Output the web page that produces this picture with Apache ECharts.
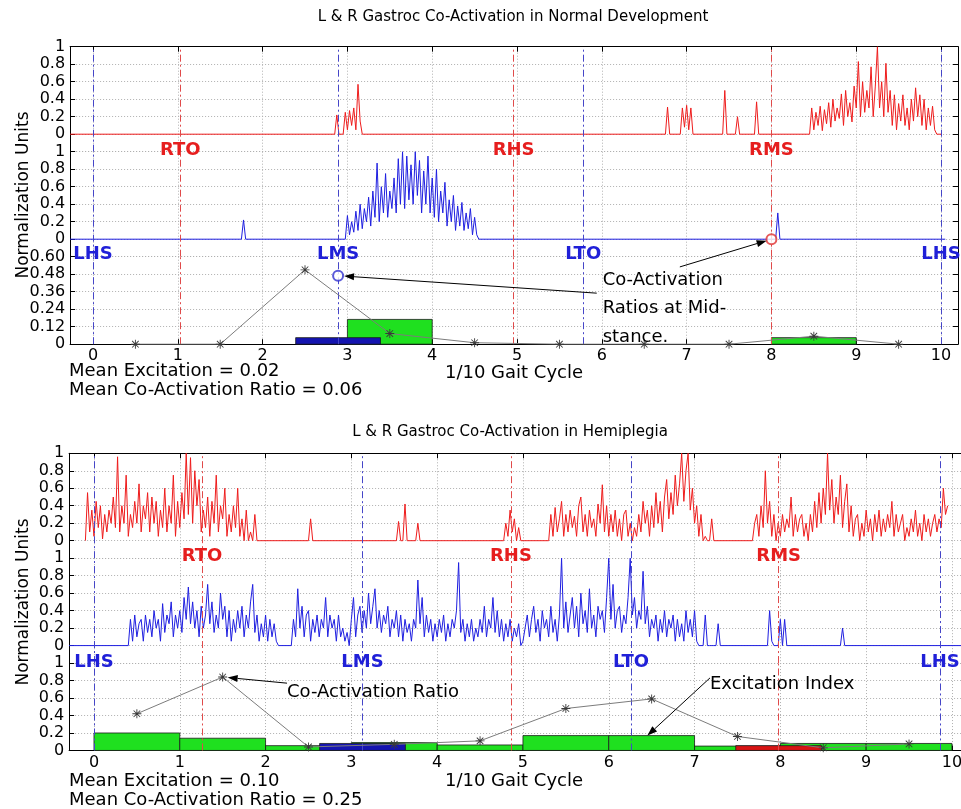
<!DOCTYPE html>
<html><head><meta charset="utf-8">
<script src="https://cdn.jsdelivr.net/npm/echarts@6/dist/echarts.min.js"></script>
<style>html,body{margin:0;padding:0;background:#fff}#c{width:961px;height:809px}</style>
</head><body><div id="c"></div><script>
// ---------------- DATA ----------------
const STEP = 0.025;                       // sample spacing (1/10 gait cycle)
const X_TICKS = [0,1,2,3,4,5,6,7,8,9,10];

// Normal development: right gastroc (red) EMG segments [startX, samples]
const ndRightEmg = [
  [-0.27,[0]],
  [2.85,[0,0.22,0]],
  [2.95,[0,0.25,0.05,0.27,0.1,0.3,0.05,0.57,0.15,0]],
  [6.75,[0,0.31,0]],
  [6.925,[0,0.3,0.08,0.33,0.05,0.3,0]],
  [7.425,[0,0.5,0]],
  [7.575,[0,0.2,0]],
  [7.8,[0,0.37,0]],
  [8.45,[0,.30,.05,.25,.10,.32,.04,.28, .12,.36,.08,.40,.15,.30,.18,.46,
         .10,.50,.20,.36,.14,.55,.30,.83, .20,.60,.25,.50,.30,.77,.20,.55,
         1.0,.30,.60,.20,.81,.25,.50,.10, .45,.05,.35,.15,.45,.10,.30,.05,
         .40,.15,.53,.20,.45,.10,.40,.05, .30,.10,.32,.05,0]],
  [10.0,[0]]
];
// Normal development: left gastroc (blue) EMG
const ndLeftEmg = [
  [-0.27,[0]],
  [1.75,[0,0.22,0]],
  [2.975,[0,.27,.05,.20,.08,.32,.10,.40, .12,.35,.20,.48,.15,.55,.25,.87,
          .20,.60,.30,.75,.25,.55,.35,.70, .30,.92,.40,1.0,.35,.95,.45,.85,
          .40,1.0,.50,.90,.30,.78,.40,.95, .30,.70,.25,.80,.20,.55,.30,.65,
          .15,.45,.20,.50,.10,.38,.15,.42, .10,.30,.12,.35,.05,.25,.05,0]],
  [8.05,[0,0.3,0]],
  [10.05,[0]]
];
const ndRightEvents = [['RTO',1.03],['RHS',4.96],['RMS',8.0]];
const ndLeftEvents  = [['LHS',0],['LMS',2.89],['LTO',5.78],['LHS',10.0]];
const ndExcitation  = [0,0,0,0.17,0,0,0,0,0.045,0];       // per 1/10 gait cycle
const ndMidstanceExcitation = {L:0.045, R:0};
const ndCoActivation = [0,0,0.51,0.073,0.01,0,0,0,0.055,0];
const ndLmsRatio = 0.47;
const ndRmsMarker = 0;

// Hemiplegia
const hmRightEmg = [
  [-0.1,[0,.55,.10,.35,.05,.45,.15,.40, .02,.30,.10,.35,.20,.50,.15,.96,
         .10,.40,.20,.75,.05,.30,.15,.45, .20,.65,.10,.40,.25,.55,.10,.50,
         .20,.45,.05,.35,.15,.60,.10,.40, .20,.75,.05,.45,.15,.55,.25,1.0,
         .30,.95,.20,.80,.40,.70,.10,.35, .15,.50,.05,.45,.20,.75,.10,.40,
         .25,.60,.05,.30,.10,.40,.15,.60, .05,.25,0,.35,0,.10,0,.30, 0,0]],
  [2.5,[0,0.25,0]],
  [3.525,[0,0.22,0,0,0.42,0]],
  [3.75,[0,0.2,0]],
  [4.775,[0,0.2,0.05,0.35,0.1,0.25,0,0.15,0]],
  [5.3,[0,.30,.05,.38,.10,.25,.45,.05, .30,.10,.35,.15,.28,.05,.40,.50,
        .10,.30,.05,.35,.15,.25,.05,.42, .20,.64,.10,.40,.05,.30,.10,.35,
        .05,.25,0,.30,.35,.05,.20,0, .15,.05,.30,.10,.45,.20,.35,.05,
        .40,.15,.55,.20,.45,.10,.50,.70, .25,.55,.30,.75,.40,.65,1.0,.45,
        .80,1.0,.35,.60,.20,.40,.05,.30, 0,.05,0,0,.25,0]],
  [7.675,[0,.20,.30,.05,.40,.15,.80,.20, .45,.05,.30,0,.20,.05,.30,.10,
          .25,.15,.50,.05,.30,.10,.25,.30, .05,.20,0,.30,.10,.45,.15,.55,
          .20,.60,.30,1.0,.35,.70,.20,.50, .30,.75,.15,.45,.65,.10,.40,.05,
          .25,.30,0,.20,.05,.35,.10,.25, 0,.30,.10,.35,.05,.25,.10,.30,
          .15,.45,.05,.30,.10,.20,.30,0, .15,.05,.25,.10,.35,.05,.20,0,
          .30,.10,.25,.05,.20,.30,.10,.25, .15,.60,.30,.40]]
];
const hmLeftEmg = [
  [-0.29,[0]],
  [0.4,[0,.30,.05,.35,.10,.25,.30,.05, .35,.15,.30,.10,.40,.20,.30,.05,
        .48,.15,.35,.25,.50,.10,.35,.20, .40,.15,.55,.30,.67,.25,.50,.20,
        .40,.10,.45,.20,.35,.70,.25,.50, .15,.35,.20,.60,.30,.45,.10,.40,
        .05,.30,.15,.40,.20,.45,.10,.35, .20,.50,.70,.15,.35,.05,.25,.10,
        .35,.05,.30,.10,.25,.05,0]],
  [2.3,[0,.30,.10,.65,.20,.45,.10,.35,.40,.05,.30,.15,.35,.10,.30,.20,.55,.10,.35,.20,.30,.05,.35,.10,.20,.05,.15,0,
        .30,.55,.10,.35,.45,.15,.40,.20, .60,.25,.45,.65,.20,.40,.15,.35,
        .25,.45,.10,.30,.20,.40,.10,.35, .05,.30,.15,.25,.05,.30,.20,.75,
        .25,.55,.10,.35,.15,.30,.05,.25, .10,.30,.15,.35,.05,.25,.10,.30,
        .20,.40,.95,.15,.30,.05,.25,.10, .30,.05,.20,.10,.30,.15,.45,.10,
        .30,.20,.55,.15,.40,.10,.30,.05, .25,.10,.30,.05,.20,.10,.25,0]],
  [5.0,[.05,.20,.35,.10,.30,.45,.15,.30, .05,.40,.20,.30,.10,.45,.15,.30,
        .05,.35,1.0,.20,.50,.15,.35,.55, .20,.45,.10,.60,.25,.40,.15,.65,
        .20,.35,.10,.45,.30,.40,.15,.55, 1.0,.30,.70,.20,.40,.45,.15,.35,
        .25,.55,1.0,.35,.55,.20,.40,.30, .85,.25,.45,.10,.30,.20,.35,.05,
        .30,.15,.40,.10,.30,.20,.35,.05, .30,.10,.25,.05,.40,.15,.30,.10,
        .40,.05,0,0,0,.35,0,0, 0,0,0,.25,0]],
  [7.85,[0,0.4,0.05,0]],
  [7.975,[0,0.3,0,0.3,0]],
  [8.7,[0,0.2,0]],
  [10.2,[0]]
];
const hmRightEvents = [['RTO',1.26],['RHS',4.86],['RMS',7.98]];
const hmLeftEvents  = [['LHS',0],['LMS',3.13],['LTO',6.26],['LHS',9.86]];
const hmExcitation  = [0.2,0.14,0.055,0.09,0.063,0.17,0.17,0.05,0.08,0.08];
const hmMidstanceExcitation = {L:0.08, R:0.055};
const hmCoActivation = [0.42,0.84,0.04,0.07,0.11,0.48,0.59,0.16,0.03,0.075];

const TEXTS = {
  ndTitle:'L & R Gastroc Co-Activation in Normal Development',
  hmTitle:'L & R Gastroc Co-Activation in Hemiplegia',
  yName:'Normalization Units', xName:'1/10 Gait Cycle',
  ndMean1:'Mean Excitation = 0.02', ndMean2:'Mean Co-Activation Ratio = 0.06',
  hmMean1:'Mean Excitation = 0.10', hmMean2:'Mean Co-Activation Ratio = 0.25'
};

// ---------------- LAYOUT / STYLE ----------------
const FONT = 'DejaVu Sans';
const RED = '#ee1c1c', BLUE = '#1f1fe0', EVR = '#e04a4a', EVB = '#4646c8';
const LBLR = '#e61e1e', LBLB = '#2020d8';
const GREEN = '#1fe01f', BARBLUE = '#1414b0', BARRED = '#d81414';
const GRIDC = '#b0b0b0';
const FIGS = [
  {left:70.1, width:887.9, top:46.7, u:17.5, xmin:-0.27, xmax:10.2, botMax:0.6, botInt:0.12},
  {left:69.1, width:900.0, top:453.3, u:17.48, xmin:-0.29, xmax:10.2, botMax:1, botInt:0.2}
];
const STAR = 'path://M4.5,0L5.5,0L5.5,10L4.5,10Z M0,4.5L10,4.5L10,5.5L0,5.5Z M1,1.7L1.7,1L9,8.3L8.3,9Z M8.3,1L9,1.7L1.7,9L1,8.3Z';

function expand(segs){
  const out=[];
  segs.forEach(([x0, vals]) => vals.forEach((v,i) => out.push([+(x0+i*STEP).toFixed(4), v])));
  return out;
}
const num1 = v => String(Math.round(v*10)/10);

const grids=[], xAxes=[], yAxes=[], S=[];
FIGS.forEach((f, fi) => {
  const tops = [f.top, f.top+6*f.u, f.top+12*f.u];
  const hs = [6*f.u, 6*f.u, 5*f.u];
  const yr = [[-0.2,1,0.2],[-0.2,1,0.2],[0,f.botMax,f.botInt]];
  const fmts = [v => Math.abs(v+0.2)<1e-6 ? '' : num1(v), v => Math.abs(v+0.2)<1e-6 ? '' : num1(v),
                fi===0 ? (v => Math.abs(v)<1e-9 ? '0' : v.toFixed(2)) : num1];
  for (let k=0;k<3;k++){
    const gi = fi*3+k;
    grids.push({left:f.left, top:tops[k], width:f.width, height:hs[k], containLabel:false, outerBoundsMode:'none', show:false});
    const role = k===0 ? 'top' : (k===1 ? 'mid' : 'bottom');
    xAxes.push({type:'value', gridIndex:gi, min:f.xmin, max:f.xmax, position: role==='top'?'top':'bottom',
      axisLine:{show:role!=='mid', onZero:false, lineStyle:{color:'#000', width:1}},
      axisTick:{show:role!=='mid', inside:true, length:5, customValues:X_TICKS, lineStyle:{color:'#000'}},
      axisLabel:{show:role==='bottom', customValues:X_TICKS, margin:4, color:'#000', fontSize:16, fontFamily:FONT},
      splitLine:{show:true, lineStyle:{color:GRIDC, type:[1,2], width:1}}});
    yAxes.push({type:'value', gridIndex:gi, min:yr[k][0], max:yr[k][1], interval:yr[k][2], position:'left',
      axisLine:{show:true, onZero:false, lineStyle:{color:'#000', width:1}},
      axisTick:{show:true, inside:true, length:5, lineStyle:{color:'#000'}},
      axisLabel:{formatter:fmts[k], margin:5, color:'#000', fontSize:16, fontFamily:FONT, showMinLabel:true, showMaxLabel:true},
      splitLine:{show:true, lineStyle:{color:GRIDC, type:[1,2], width:1}}});
    yAxes.push({type:'value', gridIndex:gi, min:yr[k][0], max:yr[k][1], interval:yr[k][2], position:'right',
      axisLine:{show:true, onZero:false, lineStyle:{color:'#000', width:1}},
      axisTick:{show:true, inside:true, length:5, lineStyle:{color:'#000'}},
      axisLabel:{show:false}, splitLine:{show:false}});
  }
});

function events(gi, evs, color){
  S.push({type:'line', xAxisIndex:gi, yAxisIndex:2*gi, data:[], silent:true, z:2,
    markLine:{silent:true, symbol:['none','none'], label:{show:false}, animation:false,
      lineStyle:{color, width:1, type:[7,3,2,3]}, data: evs.map(e => ({xAxis:e[1]}))}});
}
function emg(gi, segs, color){
  S.push({type:'line', xAxisIndex:gi, yAxisIndex:2*gi, data:expand(segs), showSymbol:false, symbol:'none',
    lineStyle:{color, width:1}, z:3, silent:true, sampling:null});
}
function bars(gi, items, fill){
  S.push({type:'custom', xAxisIndex:gi, yAxisIndex:2*gi, data:items.filter(d => d[2]>0), z:4, silent:true,
    encode:{x:[0,1], y:2},
    renderItem(params, api){
      const a = api.coord([api.value(0), api.value(2)]);
      const b = api.coord([api.value(1), 0]);
      return {type:'rect', shape:{x:a[0], y:a[1], width:b[0]-a[0], height:b[1]-a[1]},
        style:{fill, stroke:'#1a1a1a', lineWidth:0.8}};
    }});
}
function coact(gi, vals){
  S.push({type:'line', xAxisIndex:gi, yAxisIndex:2*gi, data:vals.map((v,i) => [i+0.5, v]),
    symbol:STAR, symbolSize:9, showSymbol:true, showAllSymbol:true, itemStyle:{color:'#3a3a3a'},
    lineStyle:{color:'#7c7c7c', width:1}, z:6, silent:true});
}
const decile = vals => vals.map((h,i) => [i, i+1, h]);
const centered = (x, h) => [[x-0.5, x+0.5, h]];

// Normal development (grids 0,1,2)
[0,1,2].forEach(g => { events(g, ndRightEvents, EVR); events(g, ndLeftEvents, EVB); });
emg(0, ndRightEmg, RED);
emg(1, ndLeftEmg, BLUE);
bars(2, decile(ndExcitation), GREEN);
bars(2, centered(ndLeftEvents[1][1], ndMidstanceExcitation.L), BARBLUE);
bars(2, centered(ndRightEvents[2][1], ndMidstanceExcitation.R), BARRED);
coact(2, ndCoActivation);
S.push({type:'scatter', xAxisIndex:2, yAxisIndex:4, data:[[ndLeftEvents[1][1], ndLmsRatio]], clip:false,
  symbol:'emptyCircle', symbolSize:10, itemStyle:{color:'#3030d0', borderWidth:1.2}, z:7, silent:true});
S.push({type:'scatter', xAxisIndex:1, yAxisIndex:2, data:[[ndRightEvents[2][1], ndRmsMarker]], clip:false,
  symbol:'emptyCircle', symbolSize:10, itemStyle:{color:'#e03030', borderWidth:1.2}, z:7, silent:true});

// Hemiplegia (grids 3,4,5)
[3,4,5].forEach(g => { events(g, hmRightEvents, EVR); events(g, hmLeftEvents, EVB); });
emg(3, hmRightEmg, RED);
emg(4, hmLeftEmg, BLUE);
bars(5, decile(hmExcitation), GREEN);
bars(5, centered(hmLeftEvents[1][1], hmMidstanceExcitation.L), BARBLUE);
bars(5, centered(hmRightEvents[2][1], hmMidstanceExcitation.R), BARRED);
coact(5, hmCoActivation);

const chart = echarts.init(document.getElementById('c'), null, {renderer:'canvas', width:961, height:809});
chart.setOption({
  backgroundColor:'#fff', animation:false,
  grid:grids, xAxis:xAxes, yAxis:yAxes, series:S
});

// ---------------- TEXT & ANNOTATIONS ----------------
const px = (gi, p) => chart.convertToPixel({xAxisIndex:gi, yAxisIndex:2*gi}, p);
function txt(x, y, text, size, align, opts, extra){
  return Object.assign({type:'text', x, y, z:50, silent:true,
    style:Object.assign({text, fontSize:size, fontFamily:FONT, fill:'#000', align, textAlign:align,
      verticalAlign:'middle', textVerticalAlign:'middle'}, extra||{})}, opts||{});
}
function arrow(p0, tip, back){
  let dx=tip[0]-p0[0], dy=tip[1]-p0[1]; const L=Math.hypot(dx,dy); const ux=dx/L, uy=dy/L;
  const t=[tip[0]-ux*(back||0), tip[1]-uy*(back||0)];
  const hl=10, hw=3.5, bx=t[0]-ux*hl, by=t[1]-uy*hl;
  return [
    {type:'line', z:50, silent:true, shape:{x1:p0[0], y1:p0[1], x2:bx, y2:by}, style:{stroke:'#000', lineWidth:1}},
    {type:'polygon', z:50, silent:true, shape:{points:[[t[0],t[1]],[bx-uy*hw, by+ux*hw],[bx+uy*hw, by-ux*hw]]}, style:{fill:'#000'}}
  ];
}
function eventLabels(gi, evs, y, color, dy){
  return evs.map(e => { const p = px(gi, [e[1], y]);
    return txt(p[0], p[1]+dy, e[0], 18, 'center', {}, {fill:color, fontWeight:'bold'}); });
}
const G = [];
G.push(txt(513, 17, TEXTS.ndTitle, 15, 'center'));
G.push(txt(510, 432, TEXTS.hmTitle, 15, 'center'));
G.push(txt(24, 195, TEXTS.yName, 17, 'center', {rotation:Math.PI/2}));
G.push(txt(24, 602, TEXTS.yName, 17, 'center', {rotation:Math.PI/2}));
G.push(txt(514, 373, TEXTS.xName, 18, 'center'));
G.push(txt(514, 781, TEXTS.xName, 18, 'center'));
G.push(txt(69, 371.5, TEXTS.ndMean1, 18, 'left'));
G.push(txt(69, 390, TEXTS.ndMean2, 18, 'left'));
G.push(txt(69, 781.5, TEXTS.hmMean1, 18, 'left'));
G.push(txt(69, 800, TEXTS.hmMean2, 18, 'left'));
G.push(...eventLabels(1, ndRightEvents, 1, LBLR, -1));
G.push(...eventLabels(2, ndLeftEvents, FIGS[0].botMax, LBLB, -2));
G.push(...eventLabels(4, hmRightEvents, 1, LBLR, -2));
G.push(...eventLabels(5, hmLeftEvents, FIGS[1].botMax, LBLB, -1));

// normal development annotation
const a1 = px(2, [6.01, 0.245]);
G.push(txt(a1[0], a1[1], 'Co-Activation\nRatios at Mid-\nstance.', 18, 'left', {}, {lineHeight:28.5}));
G.push(...arrow(px(2,[6.92,0.53]), px(1,[ndRightEvents[2][1], ndRmsMarker]), 5));
G.push(...arrow(px(2,[5.94,0.35]), px(2,[ndLeftEvents[1][1], ndLmsRatio]), 6));
// hemiplegia annotations
const b1 = px(5, [2.25, 0.66]);
G.push(txt(b1[0], b1[1], 'Co-Activation Ratio', 18, 'left'));
G.push(...arrow(px(5,[2.25,0.77]), px(5,[1.5, hmCoActivation[1]]), 5));
const b2 = px(5, [7.18, 0.757]);
G.push(txt(b2[0], b2[1], 'Excitation Index', 18, 'left'));
G.push(...arrow(px(5,[7.18,0.83]), px(5,[6.45, hmExcitation[6]]), 0));

chart.setOption({graphic:{elements:G}});
</script></body></html>
